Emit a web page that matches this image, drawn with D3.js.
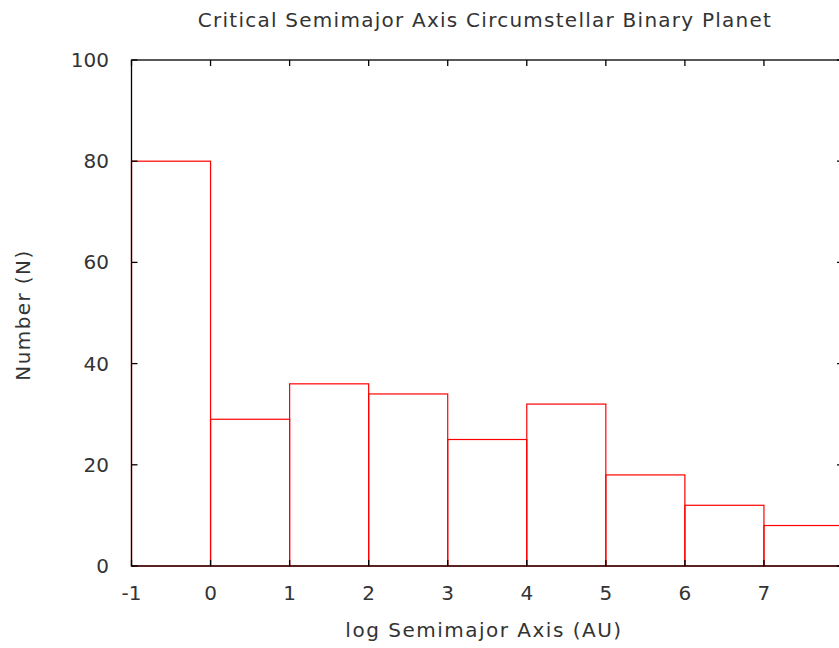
<!DOCTYPE html>
<html><head><meta charset="utf-8">
<script src="https://cdn.jsdelivr.net/npm/d3@7"></script>
<style>body{margin:0;background:#fff}text{font-family:"DejaVu Sans",sans-serif;fill:#333}</style>
</head><body>
<svg id="c" width="839" height="648"></svg>
<script>
const binStarts = [-1,0,1,2,3,4,5,6,7];
const counts = [80,29,36,34,25,32,18,12,8];
const binWidth = 1;
const xTicks = [-1,0,1,2,3,4,5,6,7,8];
const yTicks = [0,20,40,60,80,100];
const titleText = "Critical Semimajor Axis Circumstellar Binary Planet";
const xLabel = "log Semimajor Axis (AU)";
const yLabel = "Number (N)";

const svg = d3.select("#c");
const L=131.5, R=843, T=60, B=566;
const x = d3.scaleLinear().domain([-1,8]).range([L,R]);
const y = d3.scaleLinear().domain([0,100]).range([B,T]);

svg.append("g").selectAll("rect").data(counts).join("rect")
  .attr("x",(d,i)=>x(binStarts[i])).attr("width",(d,i)=>x(binStarts[i]+binWidth)-x(binStarts[i]))
  .attr("y",d=>y(d)).attr("height",d=>y(0)-y(d))
  .attr("fill","none").attr("stroke","#ff0000").attr("stroke-width",1.2);

const tl=6;
const ax=svg.append("g").attr("stroke","#000").attr("stroke-width",1.3);
xTicks.forEach(t=>{
  ax.append("line").attr("x1",x(t)).attr("x2",x(t)).attr("y1",B).attr("y2",B-tl);
  ax.append("line").attr("x1",x(t)).attr("x2",x(t)).attr("y1",T).attr("y2",T+tl);
});
yTicks.forEach(t=>{
  ax.append("line").attr("x1",L).attr("x2",L+tl).attr("y1",y(t)).attr("y2",y(t));
  ax.append("line").attr("x1",R).attr("x2",R-tl).attr("y1",y(t)).attr("y2",y(t));
});
ax.append("rect").attr("x",L).attr("y",T).attr("width",R-L).attr("height",B-T).attr("fill","none");

svg.append("g").selectAll("text").data(xTicks.filter(t=>x(t)<839)).join("text")
  .attr("x",d=>x(d)).attr("y",600).attr("text-anchor","middle").attr("font-size",20).text(d=>d);
svg.append("g").selectAll("text").data(yTicks).join("text")
  .attr("x",109).attr("y",d=>y(d)+7).attr("text-anchor","end").attr("font-size",20).text(d=>d);

svg.append("text").attr("x",485).attr("y",27).attr("text-anchor","middle").attr("font-size",20)
  .attr("letter-spacing",1.25).text(titleText);
svg.append("text").attr("x",484).attr("y",637).attr("text-anchor","middle").attr("font-size",20)
  .attr("letter-spacing",1.5).text(xLabel);
svg.append("text").attr("transform","translate(30,315) rotate(-90)").attr("text-anchor","middle").attr("font-size",20)
  .attr("letter-spacing",1.4).text(yLabel);
</script>
</body></html>
